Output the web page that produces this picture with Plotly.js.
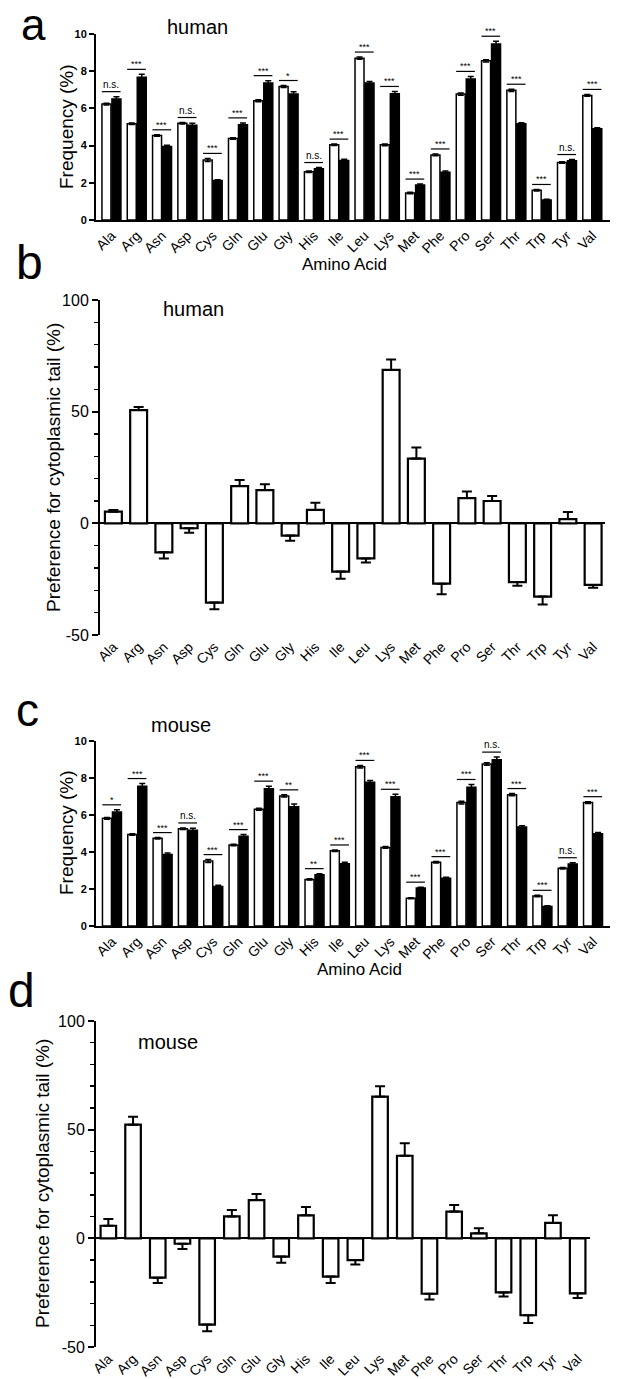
<!DOCTYPE html>
<html>
<head>
<meta charset="utf-8">
<script src="https://cdn.plot.ly/plotly-3.0.1.min.js"></script>
<style>
body{margin:0;background:#fff}
#chart{width:619px;height:1379px}
</style>
</head>
<body>
<div id="chart"></div>
<script>
// amino acids on every x axis
const aminoAcids = ['Ala','Arg','Asn','Asp','Cys','Gln','Glu','Gly','His','Ile',
                    'Leu','Lys','Met','Phe','Pro','Ser','Thr','Trp','Tyr','Val'];

// a: human frequency (%), white = rest of protein, black = cytoplasmic tail
const humanRest    = [6.23,5.17,4.54,5.20,3.23,4.38,6.41,7.18,2.59,4.04,8.70,4.04,1.45,3.50,6.77,8.56,6.97,1.60,3.09,6.70];
const humanRestErr = [0.05,0.04,0.04,0.04,0.08,0.04,0.05,0.05,0.04,0.04,0.06,0.05,0.04,0.05,0.06,0.06,0.06,0.04,0.04,0.05];
const humanTail    = [6.50,7.68,3.95,5.10,2.12,5.12,7.36,6.77,2.76,3.20,7.36,6.79,1.88,2.57,7.58,9.46,5.17,1.08,3.18,4.90];
const humanTailErr = [0.13,0.15,0.07,0.10,0.05,0.10,0.13,0.13,0.06,0.07,0.09,0.12,0.05,0.06,0.14,0.15,0.06,0.04,0.07,0.06];
const humanSig     = ['n.s.','***','***','n.s.','***','***','***','*','n.s.','***',
                      '***','***','***','***','***','***','***','***','n.s.','***'];

// b: human preference for cytoplasmic tail (%)
const humanPref    = [5.2,50.7,-13.0,-2.2,-35.5,16.7,14.9,-5.5,6.0,-21.6,-15.7,68.7,29.0,-27.0,11.3,10.0,-26.3,-32.8,1.9,-27.6];
const humanPrefErr = [0.8,1.4,2.7,2.0,3.0,2.7,2.6,2.3,3.2,3.2,1.8,4.7,5.0,4.8,2.9,2.2,1.6,3.5,3.2,1.2];

// c: mouse frequency (%)
const mouseRest    = [5.82,4.95,4.74,5.26,3.51,4.38,6.31,7.03,2.52,4.07,8.61,4.25,1.50,3.44,6.67,8.76,7.10,1.62,3.12,6.67];
const mouseRestErr = [0.05,0.04,0.04,0.04,0.08,0.04,0.05,0.06,0.04,0.04,0.07,0.05,0.03,0.04,0.07,0.07,0.06,0.04,0.04,0.05];
const mouseTail    = [6.16,7.55,3.87,5.17,2.14,4.85,7.42,6.45,2.77,3.37,7.77,6.99,2.05,2.58,7.50,8.99,5.35,1.06,3.35,4.99];
const mouseTailErr = [0.12,0.15,0.07,0.11,0.06,0.09,0.14,0.15,0.06,0.07,0.10,0.13,0.05,0.05,0.15,0.14,0.07,0.04,0.07,0.07];
const mouseSig     = ['*','***','***','n.s.','***','***','***','**','**','***',
                      '***','***','***','***','***','n.s.','***','***','n.s.','***'];

// d: mouse preference for cytoplasmic tail (%)
const mousePref    = [5.8,52.3,-18.1,-2.5,-39.7,10.1,17.6,-8.4,10.6,-17.6,-10.0,65.2,38.0,-25.5,12.3,2.3,-24.9,-35.4,7.1,-25.3];
const mousePrefErr = [3.1,3.7,2.5,2.4,3.1,2.9,2.8,2.8,3.8,3.0,2.0,4.8,5.7,2.7,3.0,2.3,1.9,3.6,3.5,2.2];

// tick labels of the preference axes (plain hyphen, as in the figure)
const prefTicks  = [-50, 0, 50, 100];
const prefLabels = ['-50', '0', '50', '100'];

const W = 619, H = 1379;
const fx = p => p / W;
const fy = p => 1 - p / H;
const FONT = 'Arial';

function freqTraces(rest, restErr, tail, tailErr, xa, ya) {
    return [{
        type: 'bar', x: aminoAcids, y: rest, xaxis: xa, yaxis: ya,
        offset: -0.375, width: 0.355,
        marker: {color: '#fff', line: {color: '#000', width: 1.5}},
        error_y: {type: 'data', array: restErr, color: '#000', thickness: 1.5, width: 3},
        showlegend: false, hoverinfo: 'x+y'
    }, {
        type: 'bar', x: aminoAcids, y: tail, xaxis: xa, yaxis: ya,
        offset: 0.02, width: 0.355,
        marker: {color: '#000', line: {color: '#000', width: 1.5}},
        error_y: {type: 'data', array: tailErr, color: '#000', thickness: 1.5, width: 3},
        showlegend: false, hoverinfo: 'x+y'
    }];
}

// error bar only on the side away from zero
function prefTrace(vals, errs, xa, ya, w) {
    return {
        type: 'bar', x: aminoAcids, y: vals, xaxis: xa, yaxis: ya,
        width: w,
        marker: {color: '#fff', line: {color: '#000', width: 2.2}},
        error_y: {
            type: 'data', symmetric: false,
            array: vals.map((v, i) => v >= 0 ? errs[i] : 0),
            arrayminus: vals.map((v, i) => v < 0 ? errs[i] : 0),
            color: '#000', thickness: 2, width: 5
        },
        showlegend: false, hoverinfo: 'x+y'
    };
}

// significance brackets above each pair of bars
function sigMarks(rest, restErr, tail, tailErr, sig, xa, ya) {
    const shapes = [], notes = [];
    sig.forEach((s, i) => {
        const top = Math.max(rest[i] + restErr[i], tail[i] + tailErr[i]) + 0.27;
        shapes.push({type: 'line', xref: xa, yref: ya, x0: i - 0.38, x1: i + 0.36, y0: top, y1: top,
                     line: {color: '#000', width: 1.2}});
        notes.push({xref: xa, yref: ya, x: i - 0.01, y: top, text: s, showarrow: false,
                    yanchor: 'bottom', yshift: s === 'n.s.' ? 0 : -2,
                    font: {family: FONT, size: s === 'n.s.' ? 10 : 9, color: '#000'}});
    });
    return {shapes, notes};
}

const sigA = sigMarks(humanRest, humanRestErr, humanTail, humanTailErr, humanSig, 'x', 'y');
const sigC = sigMarks(mouseRest, mouseRestErr, mouseTail, mouseTailErr, mouseSig, 'x3', 'y3');

const data = [
    ...freqTraces(humanRest, humanRestErr, humanTail, humanTailErr, 'x', 'y'),
    prefTrace(humanPref, humanPrefErr, 'x2', 'y2', 0.67),
    ...freqTraces(mouseRest, mouseRestErr, mouseTail, mouseTailErr, 'x3', 'y3'),
    prefTrace(mousePref, mousePrefErr, 'x4', 'y4', 0.63)
];

const xCommon = {
    type: 'category', showgrid: false, zeroline: false, ticks: '',
    tickangle: -45, tickfont: {family: FONT, size: 14, color: '#000'},
    linecolor: '#000', linewidth: 2
};
const yFreq = {
    range: [0, 10], dtick: 2, tick0: 0, showgrid: false, zeroline: false,
    showline: true, linecolor: '#000', linewidth: 2,
    ticks: 'outside', ticklen: 5, tickwidth: 2, tickcolor: '#000',
    tickfont: {family: FONT, size: 11, color: '#000', weight: 'bold'}
};
const yPref = {
    range: [-50, 100], tickmode: 'array', tickvals: prefTicks, ticktext: prefLabels,
    showgrid: false, zeroline: true, zerolinecolor: '#000', zerolinewidth: 2,
    showline: true, linecolor: '#000', linewidth: 2,
    ticks: 'outside', ticklen: 6, tickwidth: 2, tickcolor: '#000',
    minor: {dtick: 10, tick0: 0, ticks: 'outside', ticklen: 4, tickwidth: 1.5, tickcolor: '#000'},
    tickfont: {family: FONT, size: 16, color: '#000'}
};

const txt = (x, y, text, size, extra) => Object.assign({
    xref: 'paper', yref: 'paper', x: fx(x), y: fy(y), text: text, showarrow: false,
    xanchor: 'center', yanchor: 'middle', font: {family: FONT, size: size, color: '#000'}
}, extra || {});

const layout = {
    width: W, height: H,
    margin: {l: 0, r: 0, t: 0, b: 0},
    paper_bgcolor: '#fff', plot_bgcolor: '#fff',
    showlegend: false,
    xaxis:  Object.assign({}, xCommon, {domain: [fx(96), fx(610)], anchor: 'y', range: [-0.61, 19.7], showline: true}),
    yaxis:  Object.assign({}, yFreq, {domain: [fy(220), fy(34)], anchor: 'x'}),
    xaxis2: Object.assign({}, xCommon, {domain: [fx(100), fx(605)], anchor: 'y2', range: [-0.53, 19.47], showline: false}),
    yaxis2: Object.assign({}, yPref, {domain: [fy(635), fy(300)], anchor: 'x2'}),
    xaxis3: Object.assign({}, xCommon, {domain: [fx(96), fx(610)], anchor: 'y3', range: [-0.63, 19.67], showline: true}),
    yaxis3: Object.assign({}, yFreq, {domain: [fy(926), fy(741)], anchor: 'x3'}),
    xaxis4: Object.assign({}, xCommon, {domain: [fx(96), fx(590)], anchor: 'y4', range: [-0.5, 19.5], showline: false}),
    yaxis4: Object.assign({}, yPref, {domain: [fy(1347), fy(1021)], anchor: 'x4'}),
    shapes: [...sigA.shapes, ...sigC.shapes],
    annotations: [
        ...sigA.notes, ...sigC.notes,
        txt(33, 25, 'a', 44),
        txt(29, 262, 'b', 48),
        txt(27, 710, 'c', 46),
        txt(21, 990, 'd', 48),
        txt(197, 27, 'human', 20),
        txt(193, 309, 'human', 20),
        txt(181, 725, 'mouse', 20),
        txt(168, 1042, 'mouse', 20),
        txt(344, 265, 'Amino Acid', 17),
        txt(359, 969, 'Amino Acid', 17),
        txt(66, 127, 'Frequency (%)', 19, {textangle: -90}),
        txt(53, 468, 'Preference for cytoplasmic tail (%)', 19, {textangle: -90}),
        txt(66, 833, 'Frequency (%)', 19, {textangle: -90}),
        txt(42, 1184, 'Preference for cytoplasmic tail (%)', 19, {textangle: -90})
    ]
};

Plotly.newPlot('chart', data, layout, {staticPlot: true, displayModeBar: false});
</script>
</body>
</html>
